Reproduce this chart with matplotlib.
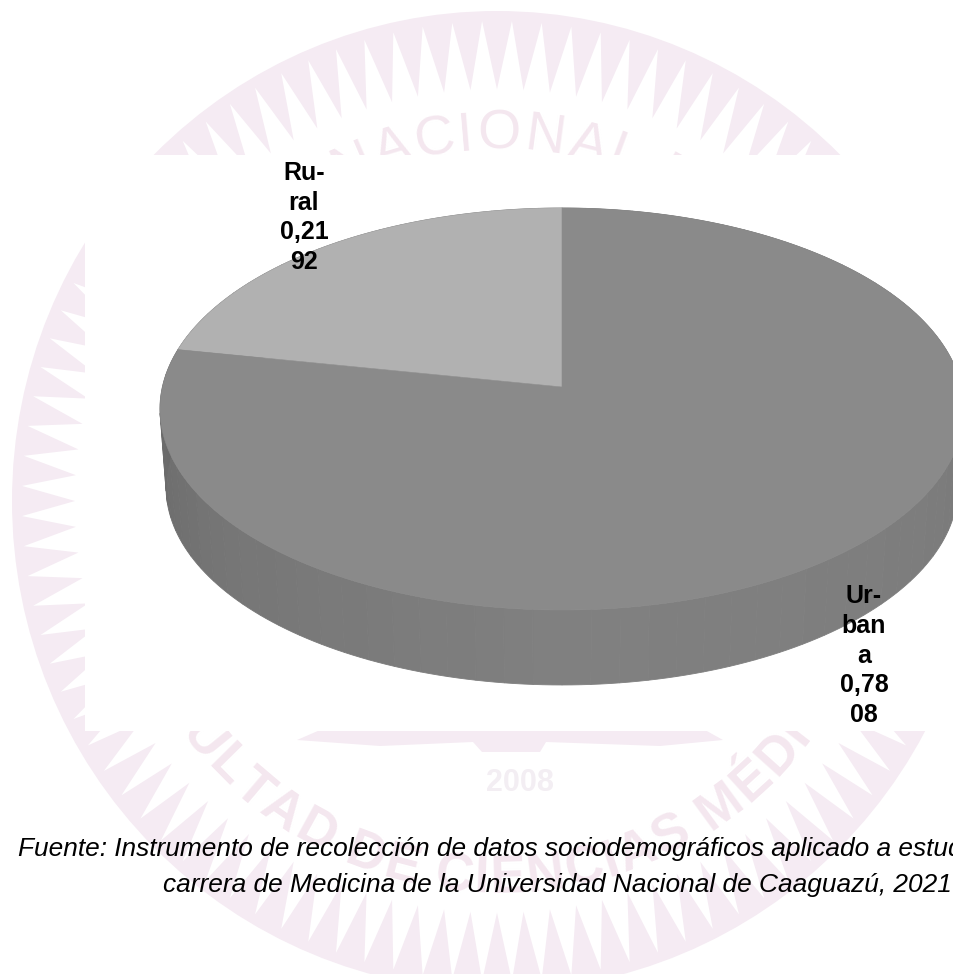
import numpy as np
import matplotlib
matplotlib.use('Agg')
import matplotlib.pyplot as plt
from matplotlib.patches import Polygon, Rectangle, Ellipse
from matplotlib.textpath import TextPath
from matplotlib.font_manager import FontProperties

# chart data
categories = ['Rural', 'Urbana']
shares = [0.2192, 0.7808]
label_lines = [['Ru-', 'ral', '0,21', '92'], ['Ur-', 'ban', 'a', '0,78', '08']]
source_lines = ['Fuente: Instrumento de recolección de datos sociodemográficos aplicado a estudiantes de la',
                'carrera de Medicina de la Universidad Nacional de Caaguazú, 2021']
seal_top = 'UNIVERSIDAD NACIONAL DE CAAGUAZÚ'
seal_bottom = 'FACULTAD DE CIENCIAS MÉDICAS'
seal_year = '2008'

plt.rcParams['font.family'] = ['Liberation Sans', 'DejaVu Sans']
PINK = '#f5ebf3'
PINK_TEXT = '#f4e7ef'

fig = plt.figure(figsize=(9.54, 9.74), dpi=100)
ax = fig.add_axes([0, 0, 1, 1])
ax.set_xlim(0, 954)
ax.set_ylim(974, 0)
ax.axis('off')


# text along the seal, one character at a time
def arc_text(text, radius, mid_angle, size, top=True, weight='normal'):
  fp = FontProperties(family='Liberation Sans', size=size, weight=weight)
  widths = []
  for ch in text:
    w = TextPath((0, 0), 'x' + ch + 'x', prop=fp).get_extents().width - TextPath((0, 0), 'xx', prop=fp).get_extents().width
    widths.append(w * 100 / 72 * 1.08)
  pos = -sum(widths) / 2
  for ch, w in zip(text, widths):
    off = (pos + w / 2) / radius
    pos += w
    if top:
      a = mid_angle + off
      x, y = 497 + radius * np.sin(a), 501 - radius * np.cos(a)
      rot = -np.degrees(a)
    else:
      a = mid_angle + off
      x, y = 497 + radius * np.sin(a), 501 + radius * np.cos(a)
      rot = np.degrees(a)
    ax.text(x, y, ch, fontsize=size, color=PINK_TEXT, ha='center', va='baseline', fontweight=weight,
            rotation=rot, rotation_mode='anchor', zorder=2)


# watermark seal behind the chart
ax.add_patch(Ellipse((497, 501), 970, 980, fc=PINK, ec='none', zorder=1))
n_teeth = 100
t = np.linspace(0, 2 * np.pi, n_teeth * 2, endpoint=False)
in_teeth = np.arange(n_teeth * 2) % 2 == 0
rx = np.where(in_teeth, 0.87, 0.98)
ry = np.where(in_teeth, 0.84, 0.98)
ax.add_patch(Polygon(np.c_[497 + 485 * rx * np.cos(t), 501 + 490 * ry * np.sin(t)], fc='white', ec='none', zorder=1.5))
arc_text(seal_top, 352, 0.0, 40)
arc_text(seal_bottom, 392, 0.0, 38, top=False, weight='bold')
ax.text(520, 783, seal_year, fontsize=22, fontweight='bold', color='#f3eef3', ha='center', va='center', zorder=2)
ax.add_patch(Polygon([(297, 740), (320, 730), (705, 730), (723, 740), (660, 746), (546, 742), (540, 752),
                      (482, 752), (473, 742), (380, 746)], fc=PINK, ec='none', zorder=2))

# white plot area
ax.add_patch(Rectangle((85, 155), 880, 576, fc='white', ec='none', zorder=3))

# 3d pie: each disc is a unit circle through a perspective map
cx, cy, b, a, k = 562, 387, 399.6, 198.6, -0.1095


def top_disc(theta):
  u, v = np.sin(theta), -np.cos(theta)
  d = 1 + k * v
  return cx + b * u / d, cy + a * v / d


def low_disc(theta):
  u, v = np.sin(theta), -np.cos(theta)
  d = 1 + k * v
  return cx + b * 0.985 * u / d, 465.3 + a * 0.985 * v / d


# side wall, drawn in strips so the shading steps like the original
edges = np.linspace(0, 2 * np.pi, 97)
for t0, t1 in zip(edges[:-1], edges[1:]):
  mid = (t0 + t1) / 2
  grey = np.interp(np.degrees(mid), [0, 70, 100, 135, 180, 230, 270, 300, 360],
                   [120, 118, 122, 126, 128, 118, 106, 110, 120])
  tt = np.linspace(t0, t1, 4)
  x1, y1 = top_disc(tt)
  x2, y2 = low_disc(tt)
  c = (grey / 255,) * 3
  ax.add_patch(Polygon(np.c_[np.r_[x1, x2[::-1]], np.r_[y1, y2[::-1]]], fc=c, ec=c, lw=0.6, zorder=4))

# top face, angles come from the shares
rural_angle = 2 * np.pi * shares[0]
for start, span, col in [(2 * np.pi - rural_angle, rural_angle, '#b1b1b1'), (0, 2 * np.pi - rural_angle, '#8a8a8a')]:
  tt = np.linspace(start, start + span, 300)
  x, y = top_disc(tt)
  ax.add_patch(Polygon(np.c_[np.r_[cx, x], np.r_[cy, y]], fc=col, ec=col, lw=0.4, zorder=5))

# data labels
for lines, xc, y0, dy in [(label_lines[0], 304, 180, 29.7), (label_lines[1], 864, 603, 29.8)]:
  for i, s in enumerate(lines):
    ax.text(xc, y0 + i * dy, s, fontsize=18, fontweight='bold', color='black', ha='center', va='baseline', zorder=6)

# source note, runs off the right edge like the original
ax.text(18, 856, source_lines[0], fontsize=18.9, fontstyle='italic', color='black', va='baseline', zorder=6)
ax.text(163, 892, source_lines[1], fontsize=18.9, fontstyle='italic', color='black', va='baseline', zorder=6)

fig.savefig('out.png', dpi=100)
